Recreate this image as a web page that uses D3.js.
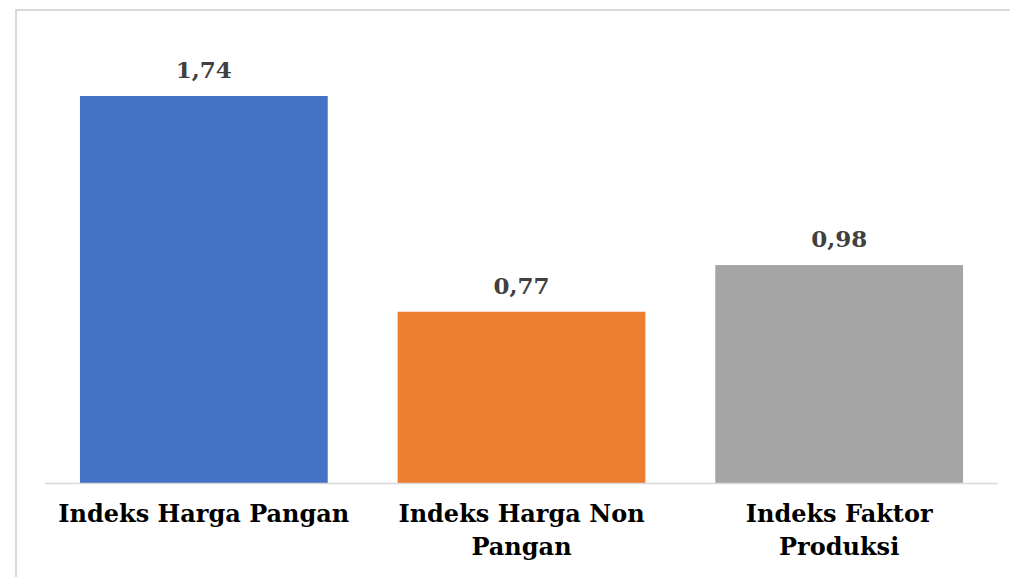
<!DOCTYPE html>
<html>
<head>
<meta charset="utf-8">
<script src="https://cdn.jsdelivr.net/npm/d3@7"></script>
<style>
  body { margin: 0; background: #fff; }
  svg { display: block; }
</style>
</head>
<body>
<svg width="1010" height="577"></svg>
<script>
var categories = ["Indeks Harga Pangan", "Indeks Harga Non Pangan", "Indeks Faktor Produksi"];
var labelLines = [["Indeks Harga Pangan"], ["Indeks Harga Non", "Pangan"], ["Indeks Faktor", "Produksi"]];
var values = [1.74, 0.77, 0.98];
var valueLabels = ["1,74", "0,77", "0,98"];
var colors = ["#4472c4", "#ed7d31", "#a5a5a5"];

var svg = d3.select("svg");
var serif = "Georgia, 'DejaVu Serif', 'Liberation Serif', serif";

// outer frame (only top and left visible)
svg.append("rect")
    .attr("x", 16).attr("y", 10)
    .attr("width", 1100).attr("height", 700)
    .attr("fill", "none")
    .attr("stroke", "#d9d9d9")
    .attr("stroke-width", 2);

var x = d3.scaleBand()
    .domain(categories)
    .range([45, 998])
    .paddingInner(0.22)
    .paddingOuter(0.11);

var y = d3.scaleLinear()
    .domain([0, 1.74])
    .range([483, 96]);

svg.selectAll("rect.bar")
    .data(values)
    .enter().append("rect")
    .attr("class", "bar")
    .attr("x", function(d, i) { return x(categories[i]); })
    .attr("y", function(d) { return y(d); })
    .attr("width", x.bandwidth())
    .attr("height", function(d) { return y(0) - y(d); })
    .attr("fill", function(d, i) { return colors[i]; });

// axis line
svg.append("line")
    .attr("x1", 45).attr("x2", 998)
    .attr("y1", y(0) + 0.5).attr("y2", y(0) + 0.5)
    .attr("stroke", "#d9d9d9")
    .attr("stroke-width", 1.5);

svg.selectAll("text.value")
    .data(values)
    .enter().append("text")
    .attr("class", "value")
    .attr("x", function(d, i) { return x(categories[i]) + x.bandwidth() / 2; })
    .attr("y", function(d) { return y(d) - 18; })
    .attr("text-anchor", "middle")
    .attr("font-family", serif)
    .attr("font-weight", "bold")
    .attr("font-size", 23)
    .attr("fill", "#404040")
    .text(function(d, i) { return valueLabels[i]; });

var cat = svg.selectAll("text.cat")
    .data(labelLines)
    .enter().append("text")
    .attr("class", "cat")
    .attr("x", function(d, i) { return x(categories[i]) + x.bandwidth() / 2; })
    .attr("y", 522)
    .attr("text-anchor", "middle")
    .attr("font-family", serif)
    .attr("font-weight", "bold")
    .attr("font-size", 24)
    .attr("fill", "#000");

cat.selectAll("tspan")
    .data(function(d) { return d; })
    .enter().append("tspan")
    .attr("x", function() { return d3.select(this.parentNode).attr("x"); })
    .attr("dy", function(d, i) { return i === 0 ? 0 : 33; })
    .text(function(d) { return d; });
</script>
</body>
</html>
